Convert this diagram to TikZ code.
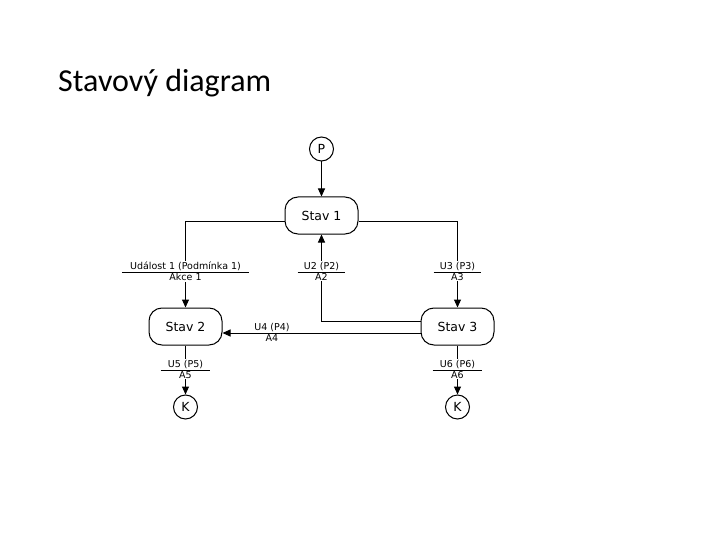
\documentclass[tikz,border=0pt]{standalone}
\usepackage{fontspec}
\setmainfont{DejaVu Sans}
\newfontfamily\titlefont{Carlito}
\usetikzlibrary{arrows.meta,calc}
\tikzset{
  conn/.style={line width=1pt},
  arr/.style={conn,-{Triangle[length=8pt,width=7pt]}},
  stavbox/.style={draw,line width=1pt,rounded corners=13pt,minimum width=73pt,minimum height=37pt,font=\fontsize{12.5}{14}\selectfont,inner sep=0pt},
  endcirc/.style={draw,circle,line width=1pt,minimum size=24pt,inner sep=0pt,font=\fontsize{12.5}{14}\selectfont},
  lbl/.style={font=\fontsize{9.5}{10}\selectfont,inner sep=1pt},
  lblw/.style={lbl,fill=white},
  sep/.style={line width=0.8pt}
}
\begin{document}
\begin{tikzpicture}[x=1pt,y=-1pt]
\useasboundingbox (0,0) rectangle (720,540);
\node[anchor=base west,inner sep=0pt,font=\titlefont\fontsize{32}{36}\selectfont] (title) at (58,92) {Stavový diagram};

\node[endcirc] (p) at (321.5,149) {P};
\node[stavbox] (s1) at (321.5,215.5) {Stav 1};
\node[stavbox] (s2) at (185.5,326.5) {Stav 2};
\node[stavbox] (s3) at (457.5,326.5) {Stav 3};
\node[endcirc] (k1) at (185.5,407) {K};
\node[endcirc] (k2) at (457.5,407) {K};

\draw[arr] (p) -- (s1);
\draw[arr] ([yshift=-6.5pt]s1.west) -| (s2.north);
\draw[arr] ([yshift=-6.5pt]s1.east) -| (s3.north);
\draw[arr] ([yshift=5.5pt]s3.west) -| (s1.south);
\draw[arr] ([yshift=-6.5pt]s3.west) -- ([yshift=-6.5pt]s2.east);
\draw[arr] (s2.south) -- (k1.north);
\draw[arr] (s3.south) -- (k2.north);

% labels
\node[lblw,anchor=south] (u1) at (185.5,272) {Událost 1 (Podmínka 1)};
\node[lblw,anchor=north] (a1) at (185.5,272) {Akce 1};
\draw[sep] ([xshift=-7pt]u1.south west) -- ([xshift=7pt]u1.south east);

\node[lblw,anchor=south] (u2) at (321.5,272) {U2 (P2)};
\node[lblw,anchor=north] (a2) at (321.5,272) {A2};
\draw[sep] ([xshift=-5pt]u2.south west) -- ([xshift=5pt]u2.south east);

\node[lblw,anchor=south] (u3) at (457.5,272) {U3 (P3)};
\node[lblw,anchor=north] (a3) at (457.5,272) {A3};
\draw[sep] ([xshift=-5pt]u3.south west) -- ([xshift=5pt]u3.south east);

\node[lbl,anchor=south] (u4) at (272,332.5) {U4 (P4)};
\node[lbl,anchor=north] (a4) at (272,333.5) {A4};

\node[lblw,anchor=south] (u5) at (185.5,370) {U5 (P5)};
\node[lblw,anchor=north] (a5) at (185.5,370) {A5};
\draw[sep] ([xshift=-6pt]u5.south west) -- ([xshift=6pt]u5.south east);

\node[lblw,anchor=south] (u6) at (457.5,370) {U6 (P6)};
\node[lblw,anchor=north] (a6) at (457.5,370) {A6};
\draw[sep] ([xshift=-6pt]u6.south west) -- ([xshift=6pt]u6.south east);
\end{tikzpicture}
\end{document}
